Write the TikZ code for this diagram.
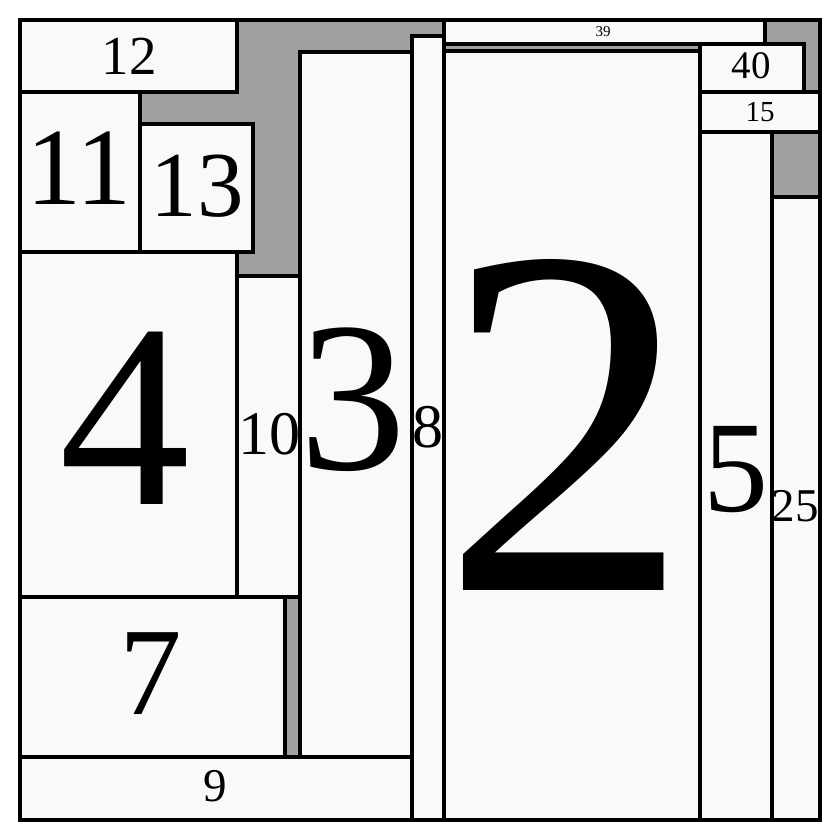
\documentclass[tikz,border=0pt]{standalone}
\usepackage{fontspec}
\setmainfont{Liberation Serif}
\definecolor{gapgray}{HTML}{A0A0A0}
\definecolor{cellfill}{HTML}{F9F9F9}
\tikzset{
  cell/.style={fill=cellfill, draw=black, line width=3.5pt},
  frame/.style={fill=gapgray, draw=black, line width=3.5pt},
  lbl/.style={inner sep=0pt, text=black},
}
\newcommand{\fs}[1]{\fontsize{#1}{#1}\selectfont}
\begin{document}
\begin{tikzpicture}[x=1pt,y=-1pt]
\useasboundingbox (0,0) rectangle (840,840);
\path[frame] (20,20) rectangle (820,820);
% cells
\path[cell] (20,20) rectangle (237,92);
\path[cell] (20,92) rectangle (140,252);
\path[cell] (140,124) rectangle (253,252);
\path[cell] (20,252) rectangle (237,597);
\path[cell] (237,276) rectangle (300,597);
\path[cell] (300,52) rectangle (412,757);
\path[cell] (412,36) rectangle (444,820);
\path[cell] (444,20) rectangle (765,44);
\path[cell] (444,51) rectangle (700,820);
\path[cell] (700,44) rectangle (804,92);
\path[cell] (700,92) rectangle (820,132);
\path[cell] (700,132) rectangle (772,820);
\path[cell] (772,197) rectangle (820,820);
\path[cell] (20,597) rectangle (285,757);
\path[cell] (20,757) rectangle (412,820);
\path[draw=black, line width=3.5pt] (20,20) rectangle (820,820);
% labels
\node[lbl] (l12) at (129,56) {\fs{55}12};
\node[lbl] (l11) at (79,168) {\fs{110}11};
\node[lbl] (l13) at (197,186) {\fs{93}13};
\node[lbl] (l4) at (125,418) {\fs{262}4};
\node[lbl] (l10) at (269,434) {\fs{62}10};
\node[lbl] (l3) at (353,400) {\fs{214}3};
\node[lbl] (l8) at (428,427) {\fs{62}8};
\node[lbl] (l39) at (603,32) {\fs{15}39};
\node[lbl] (l2) at (566,425) {\fs{500}2};
\node[lbl] (l40) at (751,66) {\fs{39}40};
\node[lbl] (l15) at (760,112) {\fs{29}15};
\node[lbl] (l5) at (736,470) {\fs{130}5};
\node[lbl] (l25) at (795,506) {\fs{47}25};
\node[lbl] (l7) at (151,674) {\fs{125}7};
\node[lbl] (l9) at (215,786) {\fs{47}9};
\end{tikzpicture}
\end{document}
